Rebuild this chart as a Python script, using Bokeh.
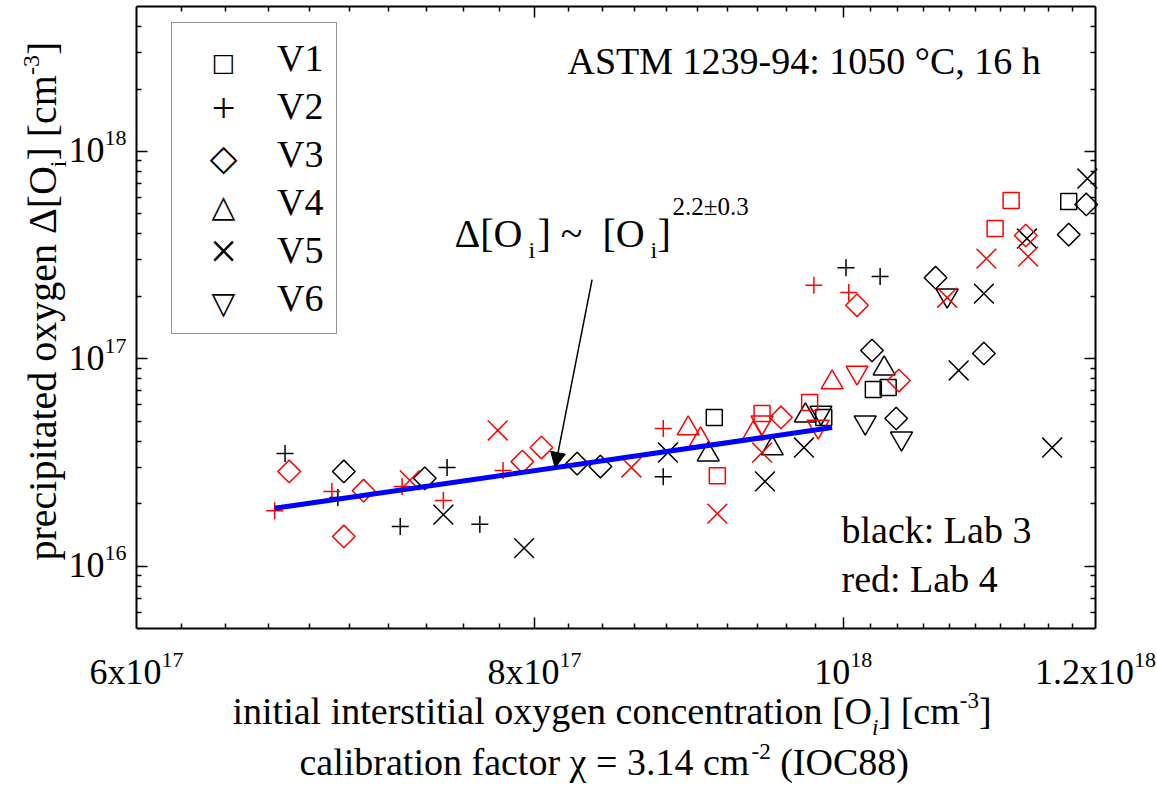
import math
from bokeh.plotting import figure
from bokeh.models import (Range1d, FixedTicker, LogAxis, Label, Legend, LegendItem,
                          Arrow, NormalHead, ColumnDataSource)
from bokeh.embed import file_html
from bokeh.resources import INLINE

# ---------------- data ----------------
# Lab 3 (black)
V1_LAB3_X = [9.11e17, 9.86e17, 1.022e18, 1.033e18, 1.177e18]
V1_LAB3_Y = [5.21e16, 5.21e16, 7.11e16, 7.27e16, 5.73e17]
V2_LAB3_X = [6.68e17, 6.94e17, 7.51e17, 7.26e17, 7.69e17, 8.78e17, 1.002e18, 1.027e18]
V2_LAB3_Y = [3.49e16, 2.14e16, 2.99e16, 1.55e16, 1.59e16, 2.70e16, 2.75e17, 2.49e17]
V3_LAB3_X = [6.97e17, 7.39e17, 8.25e17, 8.39e17, 1.021e18, 1.039e18, 1.069e18, 1.107e18, 1.177e18, 1.192e18]
V3_LAB3_Y = [2.86e16, 2.65e16, 3.12e16, 3.02e16, 1.096e17, 5.15e16, 2.46e17, 1.06e17, 3.97e17, 5.55e17]
V4_LAB3_X = [9.07e17, 9.50e17, 9.73e17, 1.030e18]
V4_LAB3_Y = [3.45e16, 3.69e16, 5.32e16, 8.97e16]
V5_LAB3_X = [7.49e17, 7.94e17, 8.81e17, 9.45e17, 9.72e17, 1.087e18, 1.107e18, 1.142e18, 1.193e18, 1.163e18]
V5_LAB3_Y = [1.77e16, 1.22e16, 3.53e16, 2.56e16, 3.73e16, 8.78e16, 2.06e17, 3.80e17, 7.40e17, 3.73e16]
V6_LAB3_X = [9.84e17, 1.016e18, 1.043e18, 1.078e18]
V6_LAB3_Y = [5.50e16, 4.93e16, 4.13e16, 2.02e17]

# Lab 4 (red)
V1_LAB4_X = [9.13e17, 9.43e17, 9.76e17, 1.116e18, 1.129e18]
V1_LAB4_Y = [2.73e16, 5.44e16, 6.15e16, 4.25e17, 5.80e17]
V2_LAB4_X = [6.63e17, 6.91e17, 7.27e17, 7.49e17, 7.82e17, 8.78e17, 9.79e17, 1.004e18]
V2_LAB4_Y = [1.85e16, 2.29e16, 2.42e16, 2.07e16, 2.89e16, 4.61e16, 2.26e17, 2.09e17]
V3_LAB4_X = [6.70e17, 7.07e17, 6.97e17, 7.93e17, 8.04e17, 9.56e17, 1.010e18, 1.041e18, 1.141e18]
V3_LAB4_Y = [2.86e16, 2.31e16, 1.39e16, 3.19e16, 3.73e16, 5.21e16, 1.81e17, 7.85e16, 3.93e17]
V4_LAB4_X = [8.94e17, 9.02e17, 9.37e17, 9.92e17]
V4_LAB4_Y = [4.61e16, 4.08e16, 4.36e16, 7.68e16]
V5_LAB4_X = [7.31e17, 7.79e17, 8.58e17, 9.13e17, 9.43e17, 1.078e18, 1.109e18, 1.143e18]
V5_LAB4_Y = [2.59e16, 4.51e16, 2.99e16, 1.79e16, 3.53e16, 1.97e17, 3.04e17, 3.11e17]
V6_LAB4_X = [9.43e17, 9.82e17, 1.010e18]
V6_LAB4_Y = [4.93e16, 4.71e16, 8.58e16]

# power-law fit line end points and the arrow pointing at it
FIT_X = [6.63e17, 9.92e17]
FIT_Y = [1.90e16, 4.66e16]
ARROW_START = (8.34e17, 2.41e17)
ARROW_END = (8.12e17, 2.99e16)

SERIES = ["V1", "V2", "V3", "V4", "V5", "V6"]

X_LIM = (6e17, 1.2e18)
Y_LIM = (5e15, 5e18)
X_TICKS = [6e17, 8e17, 1e18, 1.2e18]
X_TICK_MANT = ["6x10", "8x10", "10", "1.2x10"]
X_TICK_EXP = ["17", "17", "18", "18"]
Y_TICKS = [1e16, 1e17, 1e18]
Y_TICK_MANT = ["10", "10", "10"]
Y_TICK_EXP = ["16", "17", "18"]

# ---------------- layout ----------------
W, H = 1157, 789
BOX_L, BOX_T, BOX_R, BOX_B = 136, 6, 1095, 628     # plot box in canvas pixels
SERIF = "Liberation Serif"
SYMF = "DejaVu Sans"

# the drawing frame covers the whole canvas; the ranges are widened so that the
# axis limits land on the plot box, and the axes are pinned to the box edges
_xpp = math.log2(X_LIM[1] / X_LIM[0]) / (BOX_R - BOX_L)
_ypp = math.log10(Y_LIM[1] / Y_LIM[0]) / (BOX_B - BOX_T)
x_range = Range1d(X_LIM[0] / 2 ** (_xpp * BOX_L), X_LIM[1] * 2 ** (_xpp * (W - BOX_R)))
y_range = Range1d(Y_LIM[0] / 10 ** (_ypp * (H - BOX_B)), Y_LIM[1] * 10 ** (_ypp * BOX_T))

p = figure(width=W, height=H, x_axis_type="log", y_axis_type="log",
           x_axis_location=None, y_axis_location=None,
           x_range=x_range, y_range=y_range,
           output_backend="svg", toolbar_location=None, min_border=0)
p.xgrid.visible = False
p.ygrid.visible = False
p.outline_line_color = None
p.background_fill_color = "white"
p.border_fill_color = "white"

x_major = X_TICKS[1:-1]
x_minor = [round(6.0 + 0.2 * k, 1) * 1e17 for k in range(31)]
x_minor = [t for t in x_minor if all(abs(t - m) > 1e15 for m in X_TICKS)]
y_minor = [m * 10.0 ** e for e in (15, 16, 17, 18) for m in range(2, 10)]
y_minor = [t for t in y_minor if Y_LIM[0] < t < Y_LIM[1]]


def make_axis(major, minor, loc, bounds, side):
    ax = LogAxis(fixed_location=loc, bounds=bounds,
                 ticker=FixedTicker(ticks=major, minor_ticks=minor),
                 major_label_overrides={t: "" for t in major},
                 major_label_text_font_size="1px", major_label_standoff=0,
                 axis_line_width=2, axis_line_color="black",
                 major_tick_in=11, major_tick_out=0, minor_tick_in=5, minor_tick_out=0,
                 major_tick_line_width=1.5, minor_tick_line_width=1.5,
                 major_tick_line_color="black", minor_tick_line_color="black")
    p.add_layout(ax, side)
    return ax


make_axis(x_major, x_minor, Y_LIM[0], X_LIM, "below")
make_axis(x_major, x_minor, Y_LIM[1], X_LIM, "above")
make_axis(Y_TICKS, y_minor, X_LIM[0], Y_LIM, "left")
make_axis(Y_TICKS, y_minor, X_LIM[1], Y_LIM, "right")

# ---------------- markers ----------------
MARKERS = {
    "V1": dict(marker="square", size=16, angle=0.0),
    "V2": dict(marker="cross", size=17, angle=0.0),
    "V3": dict(marker="square", size=16, angle=math.pi / 4),
    "V4": dict(marker="triangle", size=22, angle=0.0),
    "V5": dict(marker="x", size=28, angle=0.0),
    "V6": dict(marker="inverted_triangle", size=22, angle=0.0),
}
LAB3 = {"V1": (V1_LAB3_X, V1_LAB3_Y), "V2": (V2_LAB3_X, V2_LAB3_Y), "V3": (V3_LAB3_X, V3_LAB3_Y),
        "V4": (V4_LAB3_X, V4_LAB3_Y), "V5": (V5_LAB3_X, V5_LAB3_Y), "V6": (V6_LAB3_X, V6_LAB3_Y)}
LAB4 = {"V1": (V1_LAB4_X, V1_LAB4_Y), "V2": (V2_LAB4_X, V2_LAB4_Y), "V3": (V3_LAB4_X, V3_LAB4_Y),
        "V4": (V4_LAB4_X, V4_LAB4_Y), "V5": (V5_LAB4_X, V5_LAB4_Y), "V6": (V6_LAB4_X, V6_LAB4_Y)}

for lab, color in ((LAB3, "black"), (LAB4, "red")):
    for name in SERIES:
        xs, ys = lab[name]
        src = ColumnDataSource(dict(x=xs, y=ys))
        m = MARKERS[name]
        p.scatter("x", "y", source=src, marker=m["marker"], size=m["size"], angle=m["angle"],
                  fill_color=None, line_color=color, line_width=1.5)

p.line(FIT_X, FIT_Y, line_color="#0000ff", line_width=5)
p.add_layout(Arrow(end=NormalHead(size=15, fill_color="black", line_color="black", line_width=1),
                   x_start=ARROW_START[0], y_start=ARROW_START[1],
                   x_end=ARROW_END[0], y_end=ARROW_END[1],
                   line_color="black", line_width=1.5))

# ---------------- legend (box + labels by Bokeh, symbols as text) ----------------
legend_stub = p.scatter(x=[], y=[], marker="square", size=1, line_alpha=0, fill_alpha=0)
legend = Legend(items=[LegendItem(label=n, renderers=[legend_stub]) for n in SERIES],
                location=(171, H - 334), margin=0, padding=13, spacing=4,
                glyph_width=78, glyph_height=40, label_standoff=14,
                label_text_font=SERIF, label_text_font_size="38px", label_text_color="black",
                border_line_color="#222222", border_line_width=1.2,
                background_fill_alpha=0.0)
p.add_layout(legend)

# ---------------- texts ----------------
WID = {" ": 250, "(": 333, ")": 333, ",": 250, "-": 333, ".": 250, ":": 278, "=": 564,
       "[": 333, "]": 333, "~": 541, "±": 564, "°": 400, "Δ": 612, "χ": 500,
       "A": 722, "C": 667, "I": 333, "L": 611, "M": 889, "O": 722, "S": 556, "T": 611, "V": 722,
       "a": 444, "b": 500, "c": 444, "d": 500, "e": 444, "f": 333, "g": 500, "h": 500, "i": 278,
       "k": 500, "l": 278, "m": 778, "n": 500, "o": 500, "p": 500, "r": 333, "s": 389, "t": 278,
       "x": 500, "y": 500}
BASE_FIX = 0.36   # Bokeh draws "alphabetic" text a bit low; lift it by this many em


def tw(s, size):
    return sum(WID.get(ch, 500) for ch in s) / 1000.0 * size


def label(text, x, y, size, italic=False, angle=0.0, x_units="screen", y_units="screen",
          x_offset=0.0, y_offset=0.0, align="left", font=SERIF, baseline="alphabetic",
          level="annotation"):
    if baseline == "alphabetic":
        if angle:
            x_offset -= BASE_FIX * size
        else:
            y_offset += BASE_FIX * size
    p.add_layout(Label(x=x, y=y, x_units=x_units, y_units=y_units, text=text,
                       x_offset=x_offset, y_offset=y_offset,
                       text_font=font, text_font_size=f"{size}px",
                       text_font_style="italic" if italic else "normal",
                       text_color="black", angle=angle, text_align=align,
                       text_baseline=baseline, level=level))


def at(text, cx, cy, size, italic=False):
    label(text, cx, H - cy, size, italic)


def rich(pieces, cx, cy, rotate=False):
    """pieces: (text, size, raise_px, italic); cx, cy canvas coords of start on baseline."""
    pos = 0.0
    for text, size, shift, italic in pieces:
        lead = len(text) - len(text.lstrip(" "))
        pos += tw(" " * lead, size)
        text = text.lstrip(" ")
        if rotate:
            label(text, cx - shift, H - cy + pos, size, italic, angle=math.pi / 2)
        else:
            label(text, cx + pos, H - cy + shift, size, italic)
        pos += tw(text, size)


# legend symbols: (text, font, size px, vertical nudge px)
LEG_SYM = [("□", SYMF, 25, 0), ("+", SERIF, 42, 3), ("◇", SYMF, 36, 0),
           ("△", SYMF, 31, 0), ("×", SERIF, 50, 3), ("▽", SYMF, 31, 0)]
LEG_ROW_Y = [62, 110, 157, 205, 253, 302]
for (sym, font, size, nudge), ry in zip(LEG_SYM, LEG_ROW_Y):
    label(sym, 223, H - ry, size, align="center", font=font, baseline="middle",
          y_offset=nudge, level="overlay")

# annotation texts
at("ASTM 1239-94: 1050 °C, 16 h", 567, 74, 38)
at("black: Lab 3", 841, 543, 38)
at("red: Lab 4", 841, 592, 38)

at("Δ[O", 454, 247, 40)
at("i", 528, 258, 24)
at("] ~", 537, 247, 40)
at("[O", 602, 247, 40)
at("i", 650, 258, 24)
at("]", 657, 247, 40)
at("2.2±0.3", 672, 215, 25)

# tick labels
for t, mant, ex in zip(X_TICKS, X_TICK_MANT, X_TICK_EXP):
    total = tw(mant, 36) + tw(ex, 22)
    label(mant, t, H - 684, 36, x_units="data", x_offset=-total / 2)
    label(ex, t, H - 684 + 17, 22, x_units="data", x_offset=-total / 2 + tw(mant, 36))
for t, mant, ex in zip(Y_TICKS, Y_TICK_MANT, Y_TICK_EXP):
    label(mant, 104, t, 36, y_units="data", y_offset=-12, align="right")
    label(ex, 104, t, 22, y_units="data", y_offset=5)

# axis titles
rich([("initial interstitial oxygen concentration [O", 38, 0, False),
      ("i", 23, -11, True),
      ("] [cm", 38, 0, False),
      ("-3", 23, 16, False),
      ("]", 38, 0, False)], 232, 724)
rich([("calibration factor χ = 3.14 cm", 38, 0, False),
      ("-2", 23, 16, False),
      (" (IOC88)", 38, 0, False)], 299, 775)
rich([("precipitated oxygen Δ[O", 40, 0, False),
      ("i", 24, -10, False),
      ("] [cm", 40, 0, False),
      ("-3", 24, 16, False),
      ("]", 40, 0, False)], 56, 560, rotate=True)

open("out.html", "w").write(file_html(p, INLINE))
